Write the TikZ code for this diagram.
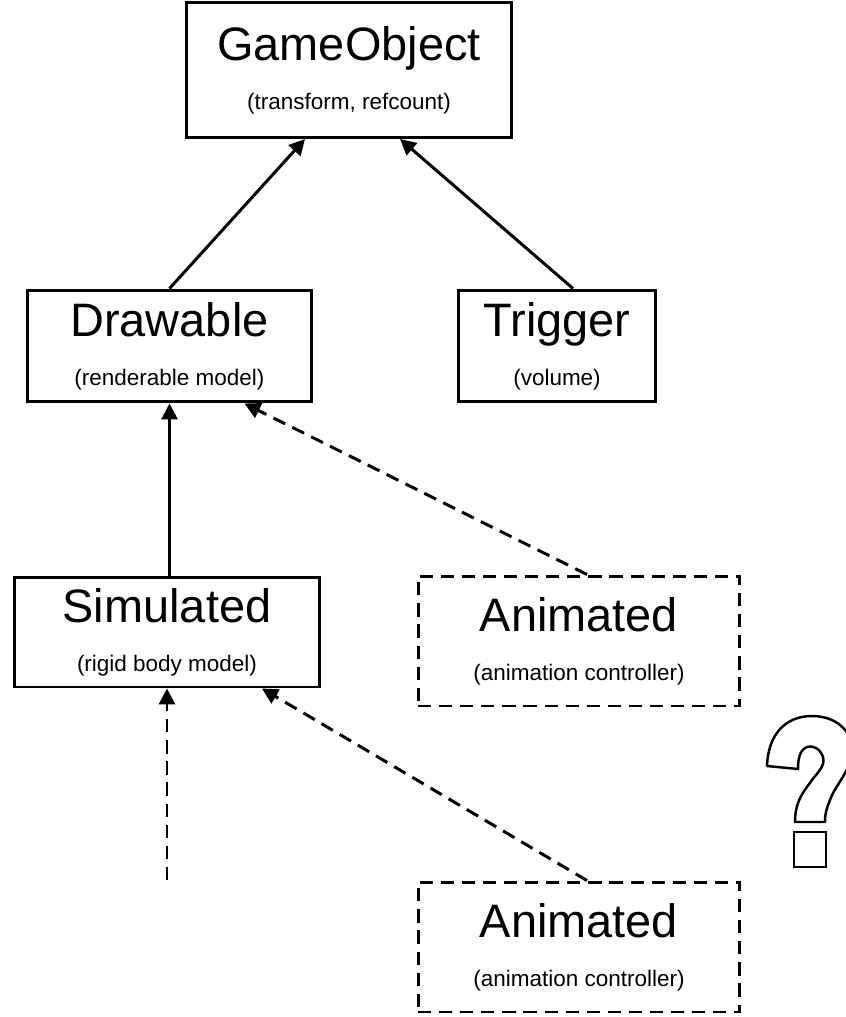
\documentclass[tikz,border=0pt]{standalone}
\usepackage{fontspec}
\setmainfont{Liberation Sans}
\usetikzlibrary{arrows.meta, calc}
\newcommand{\titlefont}{\fontsize{26.7}{29}\selectfont}
\tikzset{
  classbox/.style={
    draw, line width=1.7pt, fill=white,
    align=center, inner sep=0pt,
    font=\fontsize{12.8}{28}\selectfont
  },
  mixinbox/.style={
    classbox,
    dash pattern=on 7.5pt off 4.5pt
  },
  inherit/.style={
    -{Triangle[width=9pt,length=9pt]},
    line width=1.7pt
  },
  maybe/.style={
    inherit,
    dash pattern=on 7.5pt off 4.5pt
  }
}
\begin{document}
\begin{tikzpicture}[x=0.02cm, y=-0.02cm]
  \useasboundingbox (0,0) rectangle (845,1017);

  % Classes
  \node[classbox, minimum width=6.52cm, minimum height=2.7cm] (gameobj) at (349,70)
    {{\titlefont GameObject}\\(transform, refcount)};
  \node[classbox, minimum width=5.7cm, minimum height=2.24cm] (drawable) at (169.5,346)
    {{\titlefont Drawable}\\(renderable model)};
  \node[classbox, minimum width=3.96cm, minimum height=2.24cm] (trigger) at (557,346)
    {{\titlefont Trigger}\\(volume)};
  \node[classbox, minimum width=6.12cm, minimum height=2.2cm] (simulated) at (167,632)
    {{\titlefont Simulated}\\(rigid body model)};

  % Animated, twice
  \node[mixinbox, minimum width=6.44cm, minimum height=2.6cm] (animA) at (579,641)
    {{\titlefont Animated}\\(animation controller)};
  \node[mixinbox, minimum width=6.44cm, minimum height=2.6cm] (animB) at (579,947)
    {{\titlefont Animated}\\(animation controller)};

  % Inheritance
  \draw[inherit] (drawable.north) -- ($(gameobj.south)+(-44,0)$);
  \draw[inherit] ($(trigger.north)+(16,0)$) -- ($(gameobj.south)+(51,0)$);
  \draw[inherit] (drawable.south |- simulated.north) -- (drawable.south);
  \draw[maybe] ($(animA.north)+(8,0)$) -- ($(drawable.south)+(75,0)$);
  \coordinate (below) at (167,880);
  \draw[maybe] (below) -- (simulated.south);
  \draw[maybe] ($(animB.north)+(8,0)$) -- ($(simulated.south)+(95,0)$);

  % Question mark
  \draw[line width=1.4pt, line join=round]
    (767,766) .. controls (768,735) and (785,716) .. (812,716)
    .. controls (835,716) and (852,730) .. (852,750)
    .. controls (852,770) and (835,785) .. (830,800)
    .. controls (827,808) and (825,812) .. (825,822)
    -- (795,822)
    .. controls (795,800) and (805,790) .. (812,780)
    .. controls (820,770) and (825,765) .. (823,757)
    .. controls (820,748) and (812,745) .. (807,747)
    .. controls (800,750) and (798,758) .. (798,769)
    -- cycle;
  \draw[line width=1.4pt] (794,832) rectangle (826,867);
\end{tikzpicture}
\end{document}
